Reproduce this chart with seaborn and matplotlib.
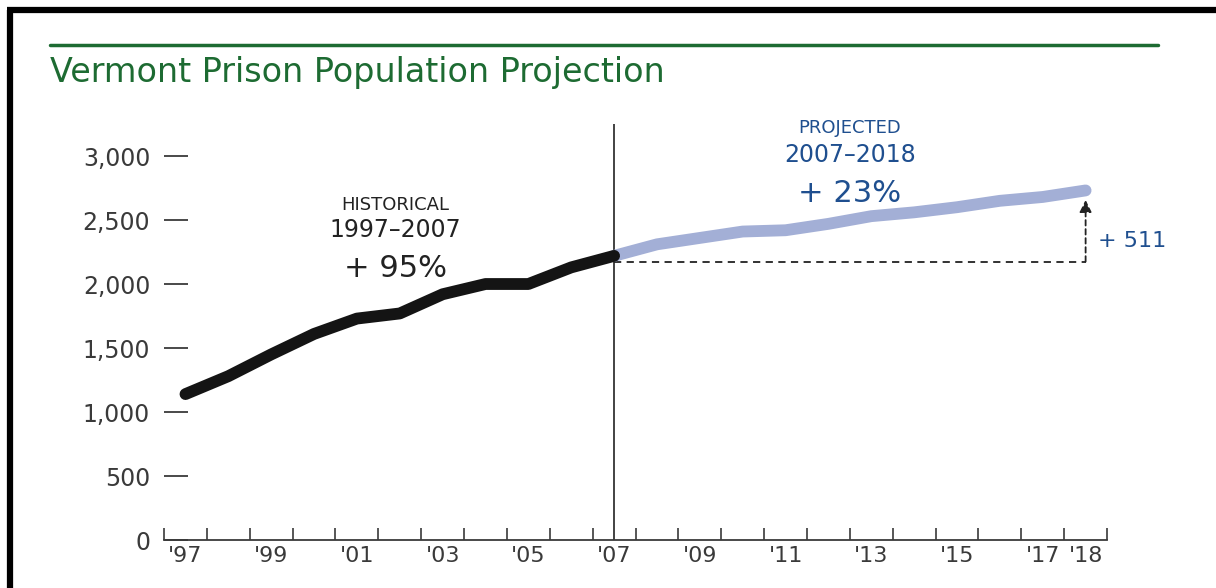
import numpy as np
import pandas as pd
import matplotlib.pyplot as plt
import seaborn as sns
from matplotlib.lines import Line2D

# data
hist_years = list(range(1997, 2008))
hist_pop = [1140, 1280, 1450, 1610, 1730, 1770, 1920, 2000, 2000, 2130, 2220]
proj_years = list(range(2007, 2019))
proj_pop = [2220, 2310, 2360, 2410, 2420, 2470, 2530, 2560, 2600, 2650, 2680, 2731]
ytick_vals = [0, 500, 1000, 1500, 2000, 2500, 3000]
xtick_years = [1997, 1999, 2001, 2003, 2005, 2007, 2009, 2011, 2013, 2015, 2017, 2018]
xtick_labels = ["'97", "'99", "'01", "'03", "'05", "'07", "'09", "'11", "'13", "'15", "'17", "'18"]

green = '#1d6b32'
blue = '#1f4f8f'
light_blue = '#a3afd6'
grey = '#3a3a3a'

sns.set_style("white")
plt.rcParams['font.family'] = ['DejaVu Sans']

hist_df = pd.DataFrame({'year': hist_years, 'pop': hist_pop})
proj_df = pd.DataFrame({'year': proj_years, 'pop': proj_pop})

fig = plt.figure(figsize=(12.16, 5.88), dpi=100)
ax = fig.add_axes([0.1349, 0.0816, 0.7755, 0.7075])

sns.lineplot(data=proj_df, x='year', y='pop', ax=ax, color=light_blue, linewidth=8.5,
             solid_capstyle='round', solid_joinstyle='round', zorder=3)
sns.lineplot(data=hist_df, x='year', y='pop', ax=ax, color='#141414', linewidth=8.5,
             solid_capstyle='round', solid_joinstyle='round', zorder=4)

ax.set_xlim(1996.5, 2018.5)
ax.set_ylim(0, 3250)
ax.set_xlabel('')
ax.set_ylabel('')

for s in ['top', 'right', 'left']:
    ax.spines[s].set_visible(False)
ax.spines['bottom'].set_color(grey)
ax.spines['bottom'].set_linewidth(1.3)

ax.set_yticks(ytick_vals)
ax.set_yticklabels([f'{v:,}' for v in ytick_vals], fontsize=17, color=grey)
ax.tick_params(axis='y', direction='in', length=17, width=1.3, color=grey, pad=10, left=True)

ax.set_xticks(xtick_years)
ax.set_xticklabels(xtick_labels, fontsize=16, color=grey)
ax.set_xticks(np.arange(1996.5, 2019, 1.0), minor=True)
ax.tick_params(axis='x', which='major', length=0, pad=4)
ax.tick_params(axis='x', which='minor', direction='in', length=9, width=1.2,
               color=grey, bottom=True)

# divider between history and projection
ax.axvline(2007, color='#222222', linewidth=1.2, zorder=2)

# change from 2007 to 2018
base = proj_pop[0]
end = proj_pop[-1]
ax.plot([2007, 2018], [base - 45, base - 45], color='#222222', linewidth=1.3,
        linestyle=(0, (4, 3)), zorder=2)
ax.annotate('', xy=(2018, end - 75), xytext=(2018, base - 45),
            arrowprops=dict(arrowstyle='-|>', color='#222222', lw=1.3,
                            linestyle=(0, (3, 2)), mutation_scale=18,
                            shrinkA=0, shrinkB=0), zorder=2)
ax.text(2018.3, (base + end) / 2 - 140, f'+ {end - base}', color=blue, fontsize=16,
        ha='left', va='center')

# period labels
ax.text(2001.9, 2615, 'HISTORICAL', fontsize=13, color='#222222', ha='center', va='center')
ax.text(2001.9, 2420, '1997–2007', fontsize=17, color='#222222', ha='center', va='center')
ax.text(2001.9, 2125, '+ 95%', fontsize=22, color='#222222', ha='center', va='center')
ax.text(2012.5, 3215, 'PROJECTED', fontsize=13, color=blue, ha='center', va='center')
ax.text(2012.5, 3005, '2007–2018', fontsize=17, color=blue, ha='center', va='center')
ax.text(2012.5, 2710, '+ 23%', fontsize=22, color=blue, ha='center', va='center')

# title and rule
fig.text(0.041, 0.876, 'Vermont Prison Population Projection', fontsize=24,
         color=green, ha='left', va='center')
fig.add_artist(Line2D([0.041, 0.952], [0.923, 0.923], color=green, linewidth=2.5))

# page frame on left and top
fig.add_artist(Line2D([0.0082, 0.0082], [0, 0.983], color='black', linewidth=4.5,
                      solid_capstyle='butt'))
fig.add_artist(Line2D([0.0058, 1.0], [0.983, 0.983], color='black', linewidth=4.5,
                      solid_capstyle='butt'))

fig.savefig('out.png', dpi=100)
